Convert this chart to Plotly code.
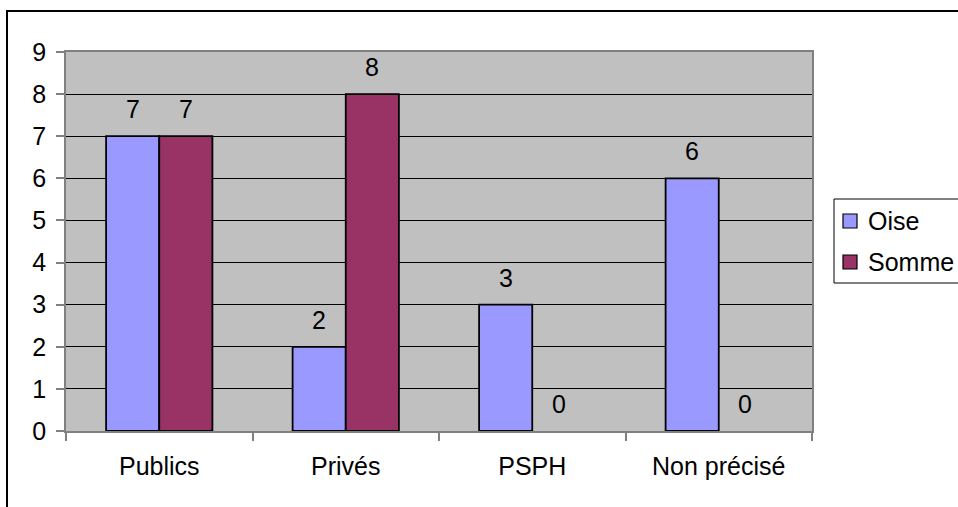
import plotly.graph_objects as go

categories = ["Publics", "Privés", "PSPH", "Non précisé"]
oise = [7, 2, 3, 6]
somme = [7, 8, 0, 0]
series_names = ["Oise", "Somme"]
y_ticks = list(range(0, 10))

OISE_COLOR = "#9999FF"
SOMME_COLOR = "#993366"
FONT = "Liberation Sans, Arial, sans-serif"
FS = 25

W, H = 958, 507
L, R, T, B = 66, 812, 52, 431  # plot area in pixels
BARGAP = 0.43


def px(x):
    return (x - L) / (R - L)


def py(y):
    return (B - y) / (B - T)


fig = go.Figure()
for name, vals, col in [(series_names[0], oise, OISE_COLOR),
                        (series_names[1], somme, SOMME_COLOR)]:
    # empty bars get no outline so the axis line stays clean
    widths = [1.8 if v else 0 for v in vals]
    fig.add_trace(go.Bar(
        x=categories, y=vals, name=name,
        marker=dict(color=col, line=dict(color="black", width=widths)),
        showlegend=False,
    ))

# value labels above each bar
half = (1 - BARGAP) / 4
annotations = []
for k, vals in enumerate([oise, somme]):
    off = -half if k == 0 else half
    for i, v in enumerate(vals):
        annotations.append(dict(
            x=i + off, y=v, xref="x", yref="y", text=str(v),
            showarrow=False, yanchor="middle", yshift=27,
            font=dict(family=FONT, size=FS, color="black"),
        ))

shapes = [
    # outer chart frame
    dict(type="rect", xref="paper", yref="paper",
         x0=px(7), x1=px(1000), y0=py(11), y1=py(600),
         line=dict(color="black", width=2), fillcolor="rgba(0,0,0,0)", layer="below"),
    # legend box
    dict(type="rect", xref="paper", yref="paper",
         x0=px(834), x1=px(1000), y0=py(199), y1=py(283),
         line=dict(color="black", width=1), fillcolor="white"),
]
for name, col, cy in [(series_names[0], OISE_COLOR, 221), (series_names[1], SOMME_COLOR, 262)]:
    shapes.append(dict(type="rect", xref="paper", yref="paper",
                       x0=px(843), x1=px(857), y0=py(cy - 7), y1=py(cy + 7),
                       line=dict(color="black", width=1.2), fillcolor=col))
    annotations.append(dict(x=px(866), y=py(cy), xref="paper", yref="paper",
                            text=name, showarrow=False, xanchor="left", yanchor="middle",
                            font=dict(family=FONT, size=FS, color="black")))

fig.update_layout(
    width=W, height=H,
    margin=dict(l=L, r=W - R, t=T, b=H - B, pad=0),
    paper_bgcolor="white", plot_bgcolor="#C0C0C0",
    barmode="group", bargap=BARGAP, bargroupgap=0,
    font=dict(family=FONT, size=FS, color="black"),
    annotations=annotations, shapes=shapes,
    showlegend=False,
)
fig.update_xaxes(
    type="category", tickson="boundaries", showgrid=False,
    ticks="outside", ticklen=8, tickcolor="#808080", tickwidth=1.5,
    showline=True, linecolor="#808080", linewidth=1.5, mirror=True,
    tickfont=dict(family=FONT, size=FS, color="black"),
    ticklabelstandoff=12,
)
fig.update_yaxes(
    range=[0, 9], tickvals=y_ticks, showgrid=True, gridcolor="black", gridwidth=1,
    zeroline=False,
    ticks="outside", ticklen=8, tickcolor="#808080", tickwidth=1.5,
    showline=True, linecolor="#808080", linewidth=1.5, mirror=True,
    tickfont=dict(family=FONT, size=FS, color="black"),
    ticklabelstandoff=5,
)

fig.write_html("out.html")
